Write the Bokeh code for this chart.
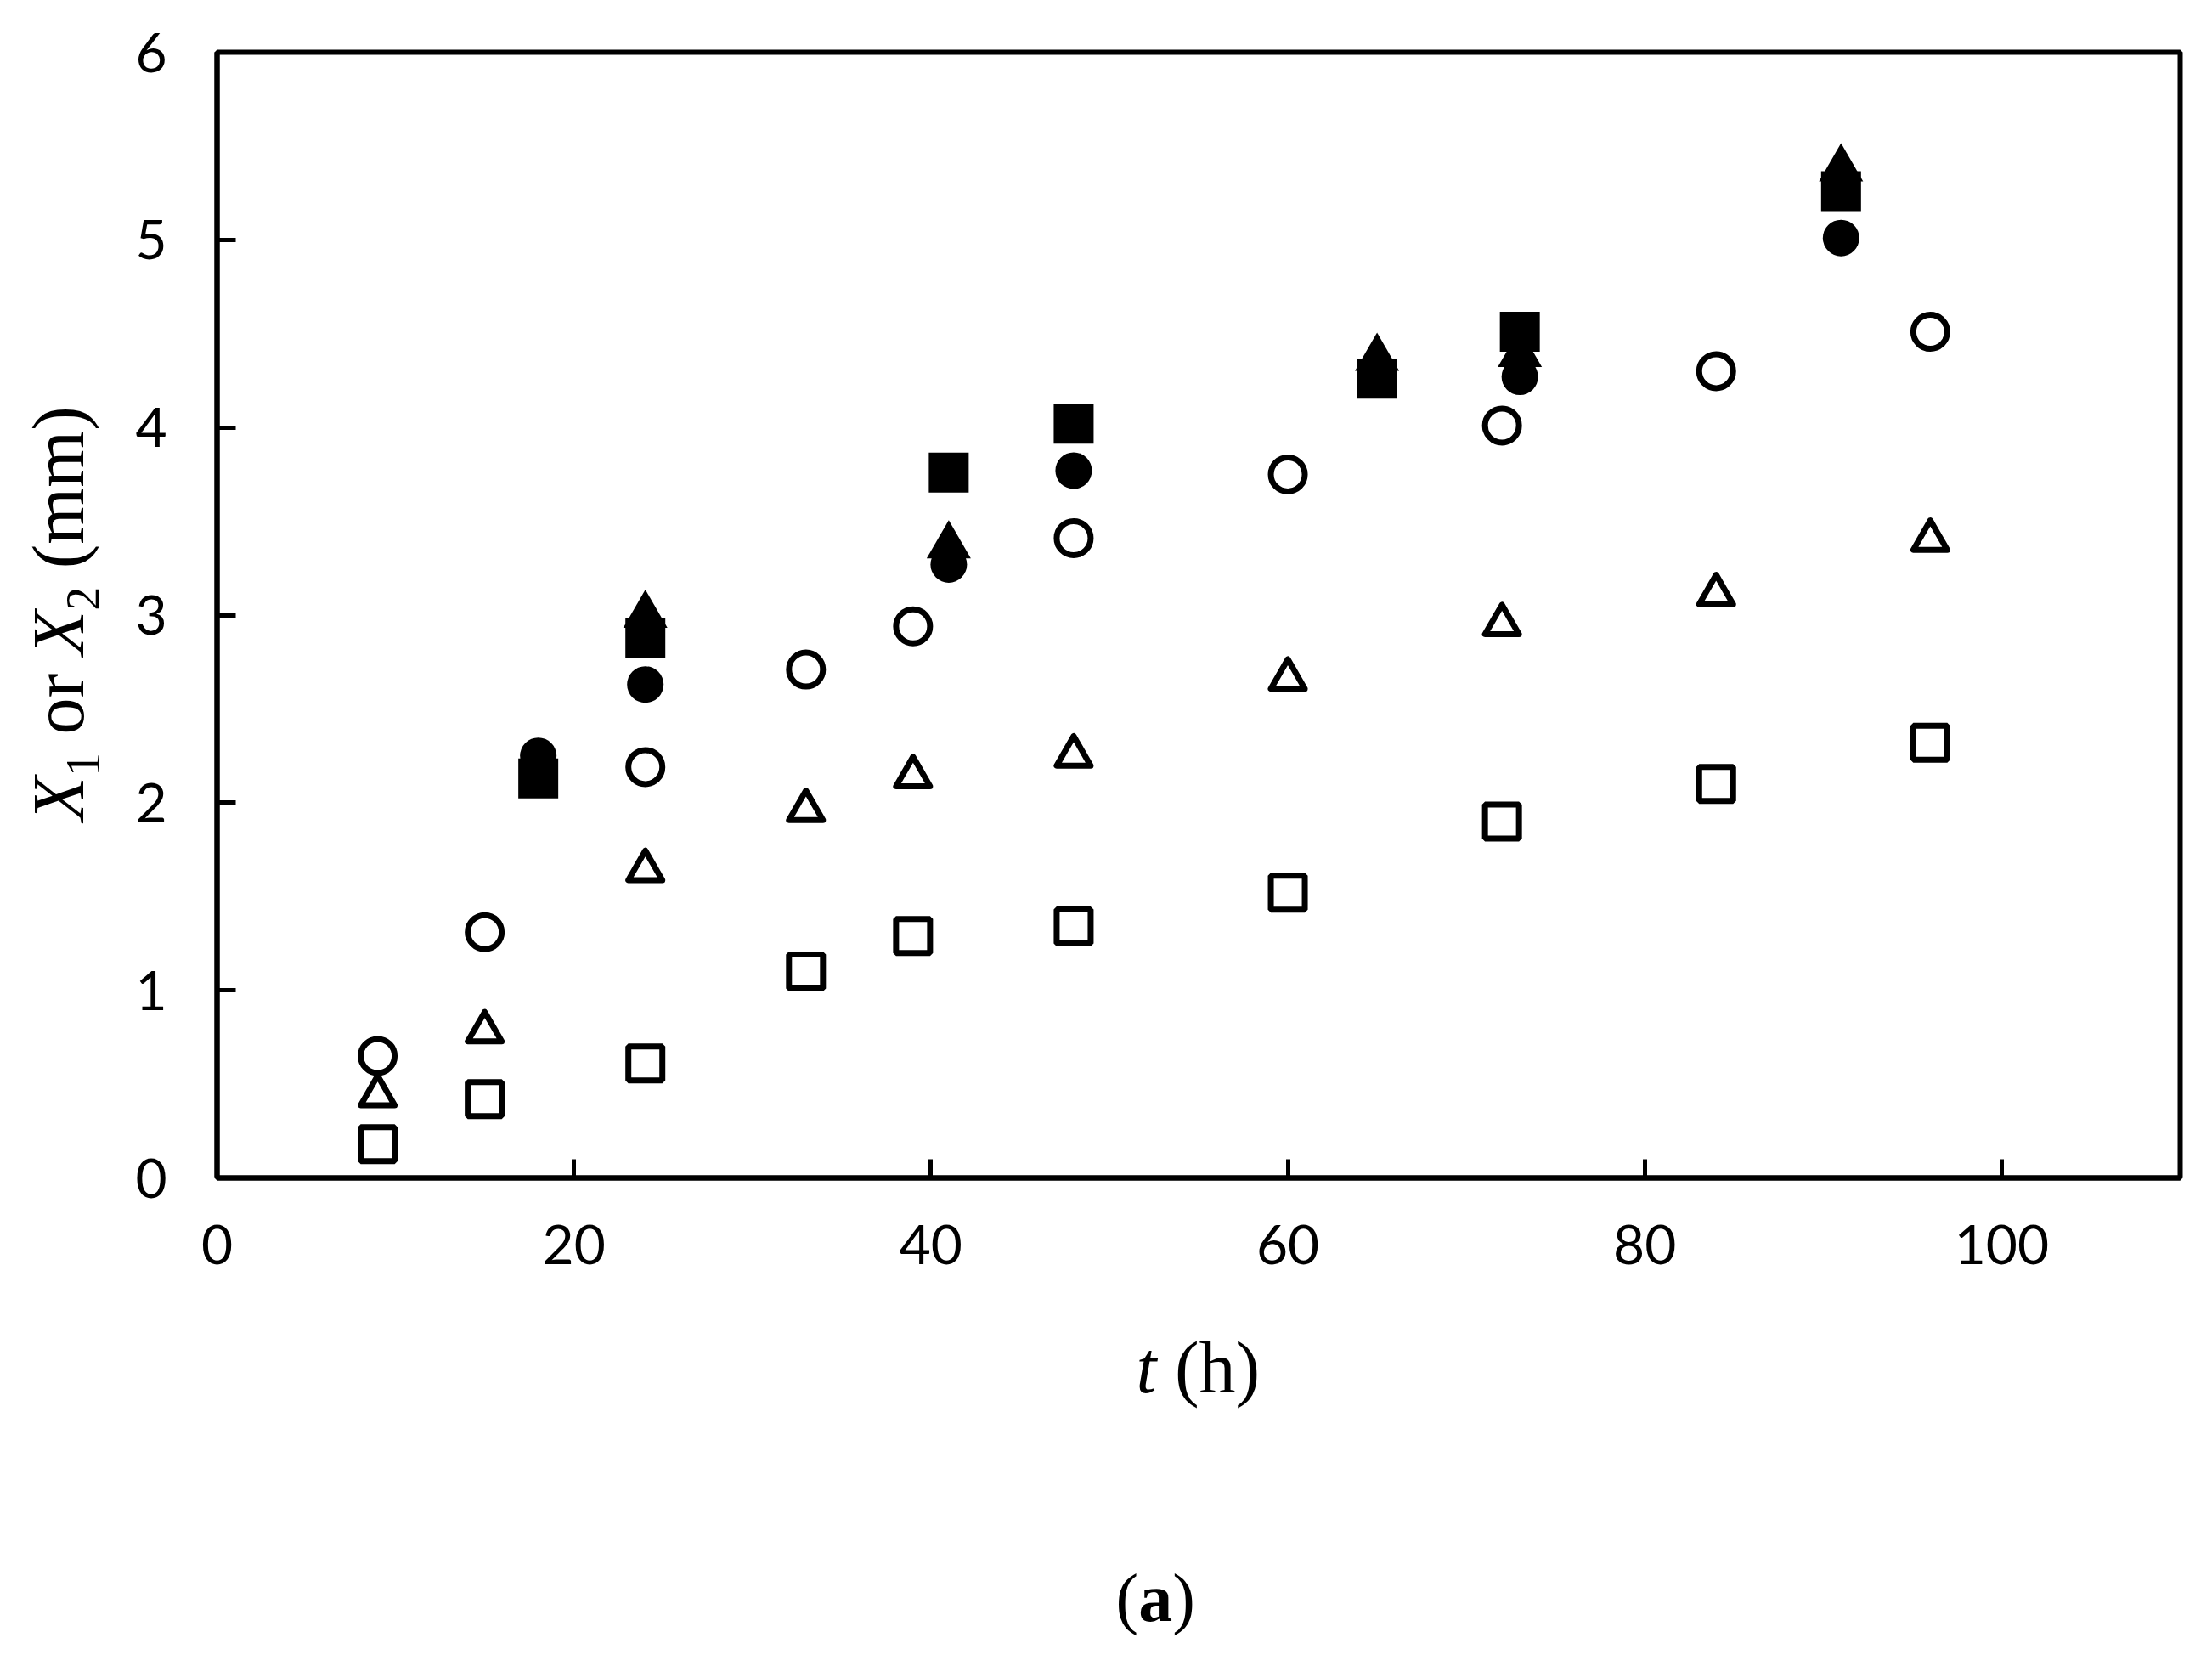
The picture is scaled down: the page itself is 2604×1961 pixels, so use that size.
import math
from bokeh.plotting import figure
from bokeh.models import Range1d, FixedTicker
from bokeh.layouts import row, column
from bokeh.core.properties import value
from bokeh.embed import file_html
from bokeh.resources import INLINE

# ---- data ----
t_open = [9, 15, 24, 33, 39, 48, 60, 72, 84, 96]
circle_open = [0.65, 1.31, 2.19, 2.71, 2.94, 3.41, 3.75, 4.01, 4.30, 4.51]
triangle_open = [0.44, 0.78, 1.64, 1.96, 2.14, 2.25, 2.66, 2.95, 3.11, 3.40]
square_open = [0.18, 0.42, 0.61, 1.10, 1.29, 1.34, 1.52, 1.90, 2.10, 2.32]

t_circle_filled = [18, 24, 41, 48, 73, 91]
circle_filled = [2.25, 2.63, 3.27, 3.77, 4.27, 5.01]
t_square_filled = [18, 24, 41, 48, 65, 73, 91]
square_filled = [2.13, 2.88, 3.76, 4.02, 4.26, 4.51, 5.26]
t_triangle_filled = [24, 41, 65, 73, 91]
triangle_filled = [3.00, 3.37, 4.37, 4.39, 5.38]

x_ticks = [0, 20, 40, 60, 80, 100]
y_ticks = [0, 1, 2, 3, 4, 5, 6]
X_MAX, Y_MAX = 110, 6

# ---- geometry in canvas pixels ----
TOTAL_W, TOTAL_H = 2588, 1945
YLAB_W = 150                      # left strip holding the y-axis title
MAIN_H = 1545                     # height of the row (strip + main plot)
FRAME_L, FRAME_T = 255, 61
FW, FH = 2311, 1325
FRAME_B = FRAME_T + FH

p = figure(frame_width=FW, frame_height=FH,
           min_border_left=FRAME_L - YLAB_W,
           min_border_top=FRAME_T,
           min_border_right=TOTAL_W - FRAME_L - FW,
           min_border_bottom=MAIN_H - FRAME_B,
           x_range=Range1d(0, X_MAX), y_range=Range1d(0, Y_MAX),
           output_backend="svg", toolbar_location=None)
p.background_fill_color = "white"
p.border_fill_color = "white"
p.grid.visible = False
p.outline_line_color = "black"
p.outline_line_width = 6
p.title.visible = False

for ax in (p.xaxis, p.yaxis):
    ax.axis_line_width = 6
    ax.axis_line_color = "black"
    ax.major_tick_line_width = 5
    ax.major_tick_line_color = "black"
    ax.major_tick_in = 22
    ax.major_tick_out = 0
    ax.minor_tick_line_color = None
    ax.major_label_text_font = "Lato"
    ax.major_label_text_font_size = "64px"
    ax.major_label_text_color = "black"
    ax.axis_label = None
p.xaxis.ticker = FixedTicker(ticks=x_ticks)
p.yaxis.ticker = FixedTicker(ticks=y_ticks)
p.xaxis.major_label_standoff = 55
p.yaxis.major_label_standoff = 59

# ---- markers ----
p.scatter(t_triangle_filled, triangle_filled, marker="triangle", size=52,
          fill_color="black", line_color=None)
p.scatter(t_circle_filled, circle_filled, marker="circle", size=43,
          fill_color="black", line_color=None)
p.scatter(t_square_filled, square_filled, marker="square", size=47,
          fill_color="black", line_color=None)
p.scatter(t_open, circle_open, marker="circle", size=40,
          fill_color=None, line_color="black", line_width=7)
p.scatter(t_open, triangle_open, marker="triangle", size=40,
          fill_color=None, line_color="black", line_width=7, line_join="round")
p.scatter(t_open, square_open, marker="square", size=40,
          fill_color=None, line_color="black", line_width=7)


# ---- text strips ----
def text_fig(w, h, yr):
    f = figure(width=w, height=h, x_range=Range1d(0, w), y_range=yr,
               min_border=0, x_axis_type=None, y_axis_type=None,
               output_backend="svg", toolbar_location=None)
    f.title.visible = False
    f.grid.visible = False
    f.outline_line_color = None
    f.background_fill_color = "white"
    f.border_fill_color = "white"
    return f

# the strip's frame is aligned with the main frame (rows align plot frames),
# so its y data = -canvas_y over [FRAME_T, FRAME_B]
ylab = text_fig(YLAB_W, MAIN_H, Range1d(-FRAME_B, -FRAME_T))
BOT_H = TOTAL_H - MAIN_H
bottom = text_fig(TOTAL_W, BOT_H, Range1d(0, BOT_H))

SERIF = "Liberation Serif"
MAIN = 86
SUB = 56
MID = 0.33          # em-box middle above the baseline, in em

def put(fig, x, y, txt, size, style="normal", angle=0.0):
    fig.text(x=[x], y=[y], text=[txt], angle=angle,
             text_font=value(SERIF), text_font_size=value(f"{size}px"),
             text_font_style=value(style), text_color="black",
             text_align="left", text_baseline="middle")

# y axis title: X1 or X2 (mm), rotated, reading upward
ang = math.pi / 2
base_x = 97 - MID * MAIN
sub_x = 116 - MID * SUB
w_X = 0.611 * MAIN
w_sub = 0.5 * SUB
w_sp = 0.25 * MAIN
w_or = 0.833 * MAIN
pos = 966
put(ylab, base_x, -pos, "X", MAIN, "italic", ang); pos -= w_X
put(ylab, sub_x, -pos, "1", SUB, "normal", ang); pos -= w_sub + w_sp
put(ylab, base_x, -pos, "or", MAIN, "normal", ang); pos -= w_or + w_sp
put(ylab, base_x, -pos, "X", MAIN, "italic", ang); pos -= w_X
put(ylab, sub_x, -pos, "2", SUB, "normal", ang); pos -= w_sub + w_sp
put(ylab, base_x, -pos, "(mm)", MAIN, "normal", ang)

# x axis title: t (h)   (bottom strip: y data = TOTAL_H - canvas_y)
yb = TOTAL_H - (1638 - MID * MAIN)
put(bottom, 1337, yb, "t", MAIN, "italic")
put(bottom, 1337 + 0.528 * MAIN, yb, "(h)", MAIN, "normal")

# panel label: (a)
AS = 80
ya = TOTAL_H - (1907 - MID * AS)
put(bottom, 1313, ya, "(", AS, "normal")
put(bottom, 1313 + 0.333 * AS, ya, "a", AS, "bold")
put(bottom, 1313 + 0.833 * AS, ya, ")", AS, "normal")

layout = column(row(ylab, p), bottom)
open("out.html", "w").write(file_html(layout, INLINE))
